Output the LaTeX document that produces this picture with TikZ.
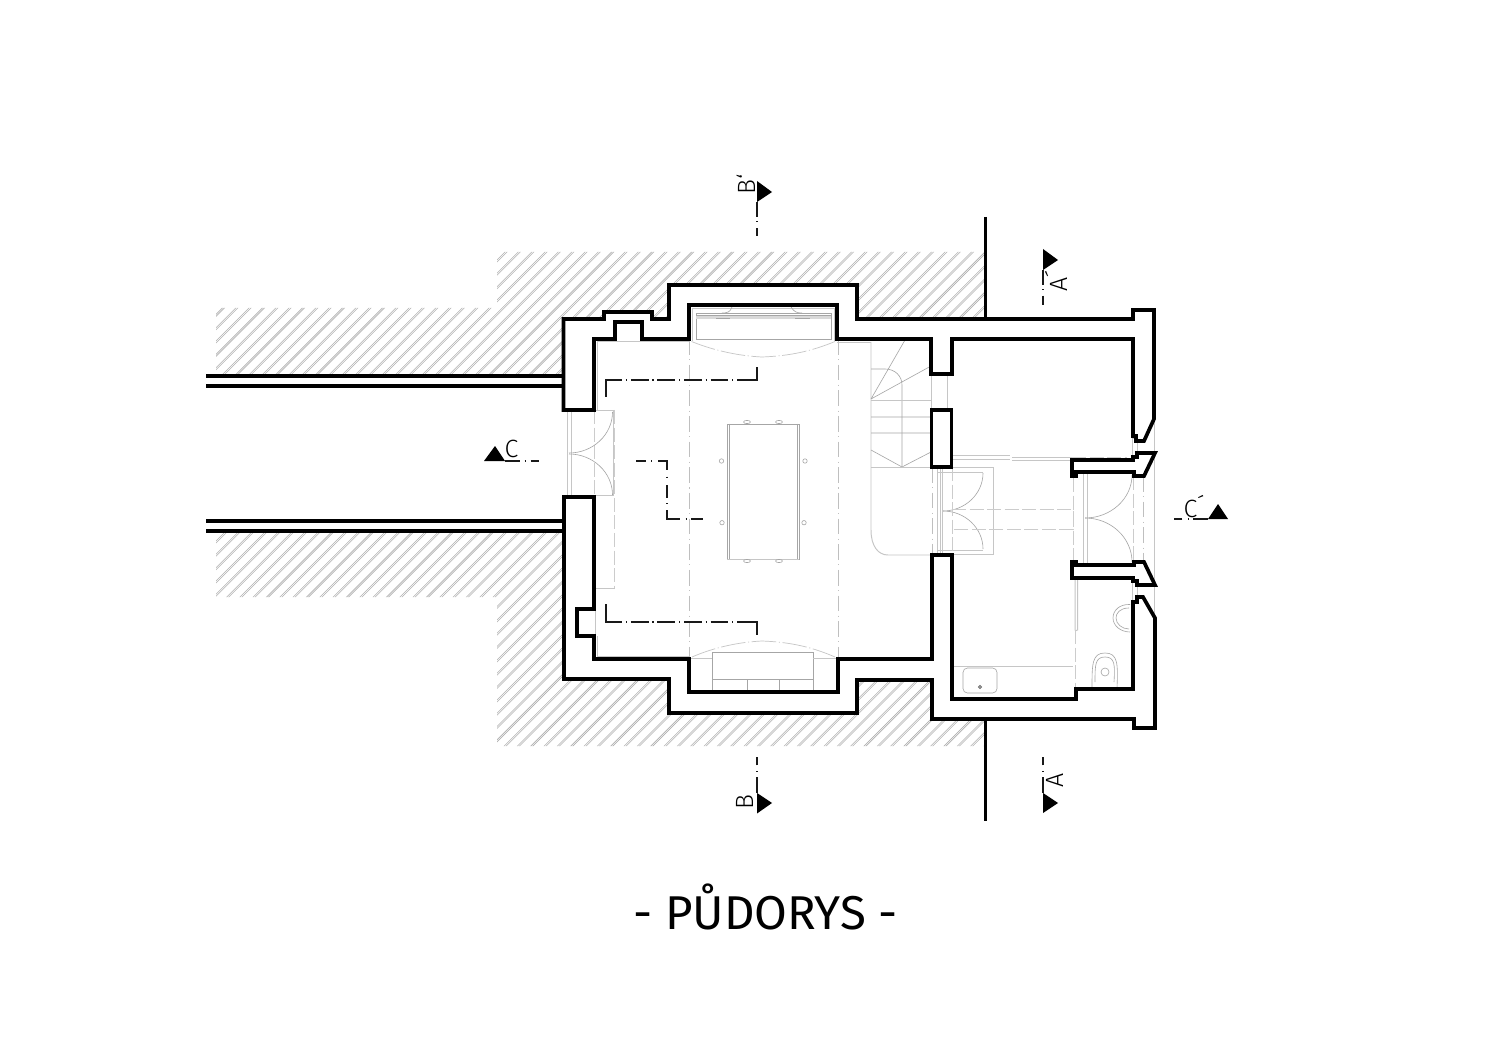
\documentclass[tikz,border=0pt]{standalone}
\usepackage{fontspec}
\setmainfont{Fira Sans Light}
\newfontfamily\titlefont{Fira Sans}
\usetikzlibrary{calc}
\newcommand\qcurve[3]{#1 .. controls ($#1!.55!#2$) and ($#3!.55!#2$) .. #3}
\tikzset{
  wall/.style={line width=2.1pt,line join=miter,black,fill=white},
  fence/.style={line width=2pt,black},
  hatchline/.style={line width=0.32pt,gray!62},
  sectsolid/.style={line width=0.95pt,black!90},
  sect/.style={sectsolid,dash pattern=on 10.1pt off 2.2pt on 0.63pt off 2.2pt,dash phase=10.1pt},
  thin1/.style={line width=0.35pt,gray!70},
  thin2/.style={line width=0.55pt,gray!45},
  axisd/.style={line width=0.45pt,gray!50,dash pattern=on 9pt off 2.5pt on 0.6pt off 2.5pt},
  dashd/.style={line width=0.5pt,gray!40,dash pattern=on 8pt off 2pt},
  arcd/.style={line width=0.4pt,gray!45,dash pattern=on 14pt off 1.5pt on 0.6pt off 1.5pt},
  marker/.style={fill=black,draw=none},
  lab/.style={font=\fontsize{14.2}{15}\selectfont,inner sep=0pt,text=black},
}
\begin{document}
\begin{tikzpicture}[x=0.02cm,y=-0.02cm]
\useasboundingbox (0,0) rectangle (1500,1060);
\fill[white] (0,0) rectangle (1500,1060);
% hatching
\begin{scope}
\clip (497,252)--(985,252)--(985,319)--(857,319)--(857,285)--(669,285)--(669,319)--(652,319)--(652,312)--(604,312)--(604,319)--(563,319)--(563,376)--(216,376)--(216,308)--(497,308)--cycle;
\foreach \k in {-24,...,44} {
  \pgfmathsetmacro\c{757+13.33*\k}
  \draw[hatchline] (\c-200,200) -- (\c-400,400);
  \draw[hatchline] (\c-198,200) -- (\c-398,400);
}
\end{scope}
\begin{scope}
\clip (216,531)--(563,531)--(563,679)--(669,679)--(669,713)--(857,713)--(857,680)--(932,680)--(932,719)--(985,719)--(985,746)--(497,746)--(497,597)--(216,597)--cycle;
\foreach \k in {-12,...,76} {
  \pgfmathsetmacro\c{757+13.33*\k}
  \draw[hatchline] (\c-500,500) -- (\c-760,760);
  \draw[hatchline] (\c-498,500) -- (\c-758,760);
}
\end{scope}
% gray thin: axes
\draw[axisd] (689,339)--(689,659);
\draw[axisd] (838,339)--(838,659);
\draw[dashd] (614.5,410)--(614.5,588);
\draw[dashd] (594.5,410)--(594.5,497);
\draw[thin2] (595,588)--(614.5,588);
\draw[thin2] (597,341.5)--(689,341.5) (597,341.5)--(597,410);
\draw[thin2] (597,656)--(689,656) (597,656)--(597,636) (595,610)--(595,636);
% left door
\draw[thin2] (567.5,412)--(567.5,495) (571.5,412)--(571.5,495);
\draw[thin2] (566,410)--(613,410)--(613,495)--(566,495);
\draw[thin1] \qcurve{(612.5,412)}{(612.5,453)}{(569,453)};
\draw[thin1] \qcurve{(612.5,495)}{(612.5,454)}{(569,454)};
% top niche
\draw[thin2] (692,308)--(692,341) (834,308)--(834,341) (692,308)--(834,308);
\draw[thin1] (696,313)--(831,313)--(831,339)--(696,339)--cycle;
\fill[gray!30] (696,315.5) rectangle (831,319);
\draw[thin1] (696,315.5)--(831,315.5);
\draw[arcd] (691.5,341.5) .. controls (715,351) and (740,356) .. (762,357) .. controls (790,356) and (812,351) .. (835,341.5);
\draw[thin1] (722,313) .. controls (728,313) and (730,312) .. (732,307) (791,307) .. controls (794,312) and (797,313) .. (802,313);
\draw[thin1] (716,318.5)--(730,318.5) (795,318.5)--(810,318.5);
% bottom counter
\draw[thin1] (712,652)--(813,652)--(813,692) (712,652)--(712,692) (712,679)--(813,679) (747,679)--(747,692) (779,679)--(779,692);
\draw[thin2] (691,658)--(712,658) (813,658)--(837,658);
\draw[arcd] (692,657) .. controls (715,647) and (740,642) .. (762,641) .. controls (790,642) and (812,647) .. (835,657);
% table
\draw[thin1] (727,424) rectangle (799,559);
\draw[thin1] (729.5,424)--(729.5,559) (797,424)--(797,559);
\draw[thin2] (727,559)--(799,559);
\foreach \p/\a in {747/422,779/422,747/561,779/561}
  \draw[thin1] (\p,\a) ellipse[x radius=3.5,y radius=1.6];
\foreach \p/\a in {721.5/461,805/461,722/522.7,804/522.7}
  \draw[thin1] (\p,\a) ellipse[x radius=2.2,y radius=2.2];
% stairs
\draw[thin2] (837,342)--(871,342);
\draw[thin2] (871,342)--(871,530) .. controls (871,546) and (878,555) .. (888,555) -- (932,555);
\draw[thin1] (871,369)--(885,369) .. controls (895,369) and (902,376) .. (902,385)--(902,467);
\draw[thin1] (871,399)--(931,366) (871,399)--(905,340);
\draw[thin2] (871,400)--(931,400);
\draw[thin1] (871,417)--(931,417) (871,433)--(931,433) (871,450)--(902,467)--(931,452);
\draw[thin2] (871,467)--(993,467);
\draw[thin2] (931.5,374)--(931.5,410) (947,374)--(947,410);
% middle door
\draw[thin2] (993,467)--(993,554)--(937,554);
\draw[thin2] (937,472)--(983,472) (937,550)--(983,550);
\draw[thin2] (937,467)--(937,554) (940,467)--(940,554) (942.5,467)--(942.5,554);
\draw[thin1] \qcurve{(983,473)}{(983,511)}{(943,511)};
\draw[thin1] \qcurve{(983,549)}{(983,511)}{(943,511)};
\draw[axisd] (932,467)--(932,555);
\draw[dashd] (952,467)--(952,555);
% corridor
\draw[dashd] (952,509)--(1073,509)--(1073,529)--(952,529);
% strip
\draw[thin2] (953,455)--(1010,455) (953,459)--(1010,459) (1012,457)--(1072,457) (1012,460)--(1072,460);
\draw[dashd] (1072,457)--(1127,457);
% right door
\draw[thin2] (1083,473)--(1083,565) (1087,473)--(1087,565);
\draw[thin2] (1083,473)--(1133,473) (1083,565)--(1133,565);
\draw[thin1] \qcurve{(1132,475)}{(1132,518)}{(1085,518)};
\draw[thin1] \qcurve{(1132,562)}{(1132,518)}{(1085,518)};
\draw[dashd] (1073,478)--(1073,560) (1133,476)--(1133,562);
\draw[axisd] (1143,476)--(1143,562);
\draw[thin2] (1154.5,419)--(1154.5,618);
% small windows
\draw[thin2] (1132,438) rectangle (1137,460) (1132,582) rectangle (1137,602);
% bathroom
\draw[thin2] (1075,578)--(1075,630) (1077.5,578)--(1077.5,630)--(1075,631);
\draw[dashd] (1075,630)--(1075,689);
\draw[thin1] (1130,604.5) .. controls (1120,604) and (1113,610) .. (1113,618) .. controls (1113,626) and (1121,632) .. (1130,632);
\draw[thin1] (1129,608) .. controls (1120,608) and (1116,613) .. (1116,618) .. controls (1116,624) and (1122,629) .. (1129,629);
\draw[thin1] (1092,688) .. controls (1092,664) and (1092,653) .. (1105,653) .. controls (1118,653) and (1118,664) .. (1117,688);
\draw[thin1] (1095,682) .. controls (1095,665) and (1095,657) .. (1105,657) .. controls (1115,657) and (1115,665) .. (1114,682);
\draw[thin1] (1105,672) circle[radius=4];
% kitchen
\draw[thin2] (953,666)--(1073,666);
\draw[thin1,rounded corners=2.5pt] (963,668) rectangle (997,693);
\draw[line width=0.5pt,gray!80!black] (980,687) circle[radius=1.5];
% walls
\draw[wall] (563.5,410)--(563.5,319)--(604,319)--(604,312)--(652,312)--(652,319)--(669,319)--(669,285)--(857,285)--(857,319)--(1133,319)--(1133,310)--(1154,310)--(1154,419)--(1144,441)--(1136,441)--(1136,436)--(1133,436)--(1133,339)--(952,339)--(952,374)--(931,374)--(931,339)--(837,339)--(837,305)--(689,305)--(689,339)--(642,339)--(642,322)--(615,322)--(615,339)--(594,339)--(594,410)--cycle;
\draw[wall] (931.5,410) rectangle (951.5,467);
\draw[wall] (1155,453)--(1137,453)--(1137,457)--(1133,457)--(1133,460)--(1072,460)--(1072,476)--(1076,476)--(1076,472)--(1134,472)--(1134,476)--(1144,476)--cycle;
\draw[wall] (1072,562)--(1076,562)--(1076,565)--(1134,565)--(1134,562)--(1144,562)--(1155,585)--(1137,585)--(1137,581)--(1133,581)--(1133,578)--(1072,578)--cycle;
\draw[wall] (1143,597)--(1137,597)--(1137,602)--(1133,602)--(1133,689)--(1076,689)--(1076,699)--(952,699)--(952,555)--(932,555)--(932,659)--(838,659)--(838,692)--(689,692)--(689,659)--(594,659)--(594,636)--(577,636)--(577,609)--(594,609)--(594,497)--(564,497)--(564,679)--(669,679)--(669,713)--(857,713)--(857,680)--(932,680)--(932,719)--(1134,719)--(1134,728)--(1155,728)--(1155,618)--cycle;
% boundary walls
\draw[line width=2pt] (985.5,217)--(985.5,319) (985.5,719)--(985.5,821);
% fences
\draw[fence] (206,376)--(563,376) (206,386)--(563,386) (206,521)--(564,521) (206,531)--(564,531);
% interior section lines
\draw[sectsolid] (605.7,397)--(605.7,380)--(622,380) (741,380)--(757,380)--(757,367);
\draw[sect] (622,380)--(741,380);
\draw[sectsolid] (605.7,604)--(605.7,622)--(622,622) (741,622)--(757,622)--(757,635);
\draw[sect] (622,622)--(741,622);
\draw[sectsolid] (636,461)--(646,461) (651.3,461)--(652,461) (658,461)--(667,461)--(667,470) (667,476.5)--(667,477.2) (667,485)--(667,498) (667,503)--(667,503.7) (667,510)--(667,519)--(680,519) (685.5,519)--(686.2,519) (691,519)--(703,519);
% section markers
\coordinate (bt) at (757,202); \coordinate (btend) at (757,237);
\fill[marker] (757,181)--(772,192)--(757,202)--cycle;
\draw[sectsolid,dash pattern=on 8.3pt off 2.6pt on 0.5pt off 3.6pt on 4.5pt off 20pt] (bt)--(btend);
\node[lab,rotate=90] (bprime) at (746,184) {B`};
\coordinate (at) at (1043,270); \coordinate (atend) at (1043,306);
\fill[marker] (1043,249)--(1058,260)--(1043,270)--cycle;
\draw[sectsolid,dash pattern=on 8.3pt off 2.6pt on 0.5pt off 3.2pt on 5.6pt off 20pt] (at)--(atend);
\node[lab,rotate=90] (aprime) at (1056,281) {A´};
\coordinate (bb) at (757,793); \coordinate (bbend) at (757,757);
\fill[marker] (757,793)--(772,803)--(757,813.5)--cycle;
\draw[sectsolid,dash pattern=on 9pt off 3.1pt on 0.5pt off 3.1pt on 5.6pt off 20pt] (bb)--(bbend);
\node[lab,rotate=90] (blow) at (744.5,802.5) {B};
\coordinate (ab) at (1043,793); \coordinate (abend) at (1043,757);
\fill[marker] (1043,793)--(1058,803)--(1043,813)--cycle;
\draw[sectsolid,dash pattern=on 9pt off 3.1pt on 0.5pt off 3.1pt on 5.6pt off 20pt] (ab)--(abend);
\node[lab,rotate=90] (alow) at (1054.5,780) {A};
\fill[marker] (484,461)--(505,461)--(495,446)--cycle;
\coordinate (cl) at (505,461); \coordinate (clend) at (541,461);
\draw[sectsolid,dash pattern=on 8.5pt off 2.6pt on 0.5pt off 3pt on 4.5pt off 20pt] (cl)--(clend);
\node[lab] (clab) at (511.5,449) {C};
\fill[marker] (1208,519)--(1228,519)--(1218,504)--cycle;
\coordinate (cr) at (1208,519); \coordinate (crend) at (1172,519);
\draw[sectsolid,dash pattern=on 8.5pt off 2.6pt on 0.5pt off 3pt on 4.5pt off 20pt] (cr)--(crend);
\node[lab] (crlab) at (1194,507) {C´};
% title
\node[inner sep=0pt,font=\titlefont\fontsize{27}{30}\selectfont,anchor=base] (title) at (765.5,929) {- PŮDORYS -};
\end{tikzpicture}
\end{document}
